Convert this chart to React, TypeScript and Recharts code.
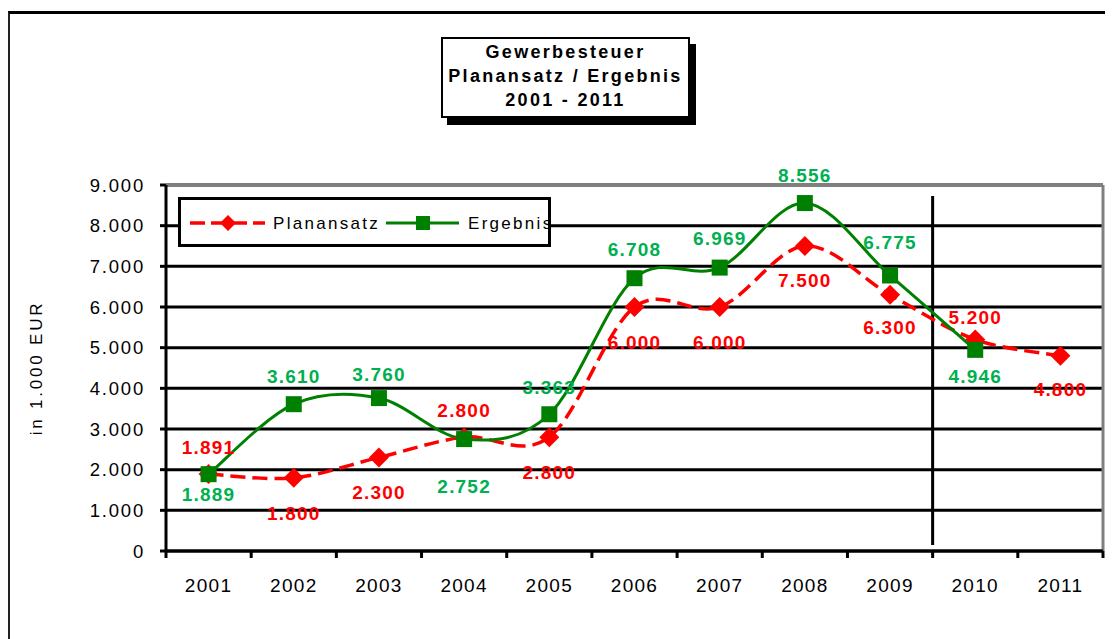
import React from 'react';
import { LineChart, Line, XAxis, YAxis, CartesianGrid, ReferenceLine, Legend } from 'recharts';

const years = ['2001', '2002', '2003', '2004', '2005', '2006', '2007', '2008', '2009', '2010', '2011'];
const planansatz = [1891, 1800, 2300, 2800, 2800, 6000, 6000, 7500, 6300, 5200, 4800];
const ergebnis: (number | null)[] = [1889, 3610, 3760, 2752, 3363, 6708, 6969, 8556, 6775, 4946, null];
const yTicks = [0, 1000, 2000, 3000, 4000, 5000, 6000, 7000, 8000, 9000];
const titleLines = ['Gewerbesteuer', 'Planansatz / Ergebnis', '2001 - 2011'];

// where each data label sits relative to its point (px, negative = above)
const planLabelDy = [-27, 36, 35, -27, 35, 35, 35, 34, 33, -22, 34];
const ergebnisLabelDy = [20, -28, -24, 47, -27, -29, -29, -28, -33, 27, 0];

const W = 1105;
const H = 631;
const MARGIN = { top: 177, right: 10, bottom: 48, left: 0 };
const Y_AXIS_W = 158;
const PLOT_W = W - MARGIN.right - MARGIN.left - Y_AXIS_W;

const FONT = "'Liberation Sans', Arial, sans-serif";
const RED = '#FF0000';
const GREEN_LINE = '#008000';
const GREEN_TEXT = '#00B050';

const data = years.map((year, i) => ({ year, planansatz: planansatz[i], ergebnis: ergebnis[i] }));

const fmt = (v: number) => String(v).replace(/\B(?=(\d{3})+(?!\d))/g, '.');

// Excel-like smoothed line (bezier through points, tangents from neighbours)
const excelSmooth = (context: any) => {
  let pts: [number, number][] = [];
  return {
    areaStart() {},
    areaEnd() {},
    lineStart() {
      pts = [];
    },
    point(x: number, y: number) {
      pts.push([+x, +y]);
    },
    lineEnd() {
      const n = pts.length;
      if (!n) return;
      context.moveTo(pts[0][0], pts[0][1]);
      for (let i = 0; i < n - 1; i++) {
        const p0 = pts[Math.max(i - 1, 0)];
        const p1 = pts[i];
        const p2 = pts[i + 1];
        const p3 = pts[Math.min(i + 2, n - 1)];
        context.bezierCurveTo(
          p1[0] + (p2[0] - p0[0]) / 6,
          p1[1] + (p2[1] - p0[1]) / 6,
          p2[0] - (p3[0] - p1[0]) / 6,
          p2[1] - (p3[1] - p1[1]) / 6,
          p2[0],
          p2[1]
        );
      }
    },
  };
};

const Diamond = (p: any) => {
  if (p.cy == null || p.cx == null) return <g key={`pd-${p.index}`} />;
  const r = 10;
  return (
    <path
      key={`pd-${p.index}`}
      d={`M${p.cx},${p.cy - r}L${p.cx + r},${p.cy}L${p.cx},${p.cy + r}L${p.cx - r},${p.cy}Z`}
      fill={RED}
    />
  );
};

const Square = (p: any) => {
  if (p.cy == null || p.cx == null || p.value == null) return <g key={`es-${p.index}`} />;
  const s = 16;
  return <rect key={`es-${p.index}`} x={p.cx - s / 2} y={p.cy - s / 2} width={s} height={s} fill={GREEN_LINE} />;
};

const makeLabel = (color: string, dys: number[]) => (props: any) => {
  const x = props.x ?? props.viewBox?.x;
  const y = props.y ?? props.viewBox?.y;
  const value = props.value;
  if (value == null || x == null || y == null) return null;
  return (
    <text
      key={`l-${color}-${props.index}`}
      x={x}
      y={y + dys[props.index]}
      textAnchor="middle"
      dominantBaseline="central"
      fill={color}
      fontFamily={FONT}
      fontWeight="bold"
      fontSize={19}
      letterSpacing={1.2}
    >
      {fmt(value)}
    </text>
  );
};

const XTick = (props: any) => {
  const { x, y, payload, index } = props;
  const half = PLOT_W / years.length / 2;
  return (
    <g>
      <line x1={x - half} y1={y} x2={x - half} y2={y + 7} stroke="#000" strokeWidth={3} />
      {index === years.length - 1 && (
        <line x1={x + half} y1={y} x2={x + half} y2={y + 7} stroke="#000" strokeWidth={3} />
      )}
      <text
        x={x}
        y={y + 34}
        textAnchor="middle"
        dominantBaseline="central"
        fill="#000"
        fontFamily={FONT}
        fontSize={19}
        letterSpacing={1.3}
      >
        {payload.value}
      </text>
    </g>
  );
};

const YLabel = (props: any) => {
  const vb = props.viewBox || {};
  const cx = (vb.x ?? 0) + 28;
  const cy = (vb.y ?? 0) + (vb.height ?? 0) / 2;
  return (
    <text
      x={cx}
      y={cy}
      transform={`rotate(-90 ${cx} ${cy})`}
      textAnchor="middle"
      dominantBaseline="central"
      fill="#000"
      fontFamily={FONT}
      fontSize={17}
      letterSpacing={2.8}
    >
      in 1.000 EUR
    </text>
  );
};

const LegendBox = () => (
  <svg width={373} height={50} style={{ overflow: 'visible', display: 'block' }}>
    <rect x={1.5} y={1.5} width={370} height={47} fill="#fff" />
    <line x1={12} y1={26} x2={87} y2={26} stroke={RED} strokeWidth={3.5} strokeDasharray="15 6" />
    <path d="M50,18L58,26L50,34L42,26Z" fill={RED} />
    <text x={95} y={26} dominantBaseline="central" fontFamily={FONT} fontSize={17} letterSpacing={2.3} fill="#000">
      Planansatz
    </text>
    <line x1={208} y1={26} x2={281} y2={26} stroke={GREEN_LINE} strokeWidth={3} />
    <rect x={238} y={19} width={14} height={14} fill={GREEN_LINE} />
    <text x={290} y={26} dominantBaseline="central" fontFamily={FONT} fontSize={17} letterSpacing={2.3} fill="#000">
      Ergebnis
    </text>
    <rect x={1.5} y={1.5} width={370} height={47} fill="none" stroke="#000" strokeWidth={3} />
  </svg>
);

const App: React.FC = () => {
  return (
    <div style={{ position: 'relative', width: W, height: H, overflow: 'hidden', background: '#fff' }}>
      <div
        style={{
          position: 'absolute',
          left: 0,
          top: 3,
          width: W + 20,
          height: H + 20,
          borderTop: '3px solid #000',
          borderLeft: '2px solid #222',
          boxSizing: 'border-box',
        }}
      />
      <div style={{ position: 'absolute', left: 0, top: 0 }}>
        <LineChart width={W} height={H} data={data} margin={MARGIN}>
          <CartesianGrid vertical={false} stroke="#000" strokeWidth={3} />
          <ReferenceLine y={9000} stroke="#808080" strokeWidth={3} />
          <ReferenceLine x="2011" position="end" stroke="#808080" strokeWidth={3} />
          <ReferenceLine
            position="end"
            segment={[
              { x: '2009', y: 8730 },
              { x: '2009', y: 150 },
            ]}
            stroke="#000"
            strokeWidth={3}
          />
          <XAxis
            dataKey="year"
            scale="band"
            height={40}
            tickLine={false}
            tickSize={0}
            tickMargin={0}
            axisLine={{ stroke: '#000', strokeWidth: 3 }}
            tick={<XTick />}
            interval={0}
          />
          <YAxis
            width={Y_AXIS_W}
            domain={[0, 9000]}
            ticks={yTicks}
            interval={0}
            tickFormatter={fmt}
            tickSize={6}
            tickMargin={15}
            axisLine={{ stroke: '#000', strokeWidth: 3 }}
            tickLine={{ stroke: '#000', strokeWidth: 3 }}
            tick={{ fill: '#000', fontSize: 18.5, fontFamily: FONT, letterSpacing: 1.8 }}
            label={YLabel}
          />
          <Legend
            verticalAlign="middle"
            align="center"
            wrapperStyle={{ left: 170, top: 189, width: 373, height: 50 }}
            content={LegendBox}
          />
          <Line
            dataKey="planansatz"
            name="Planansatz"
            type={excelSmooth as any}
            stroke={RED}
            strokeWidth={3.5}
            strokeDasharray="15 7"
            dot={Diamond}
            activeDot={false}
            label={makeLabel(RED, planLabelDy)}
            isAnimationActive={false}
          />
          <Line
            dataKey="ergebnis"
            name="Ergebnis"
            type={excelSmooth as any}
            stroke={GREEN_LINE}
            strokeWidth={3}
            dot={Square}
            activeDot={false}
            label={makeLabel(GREEN_TEXT, ergebnisLabelDy)}
            isAnimationActive={false}
          />
        </LineChart>
      </div>
      <div
        style={{
          position: 'absolute',
          left: 433,
          top: 29,
          width: 249,
          height: 81,
          boxSizing: 'border-box',
          border: '2px solid #000',
          background: '#fff',
          boxShadow: '6px 7px 0 #000',
          paddingTop: 1,
          textAlign: 'center',
          fontFamily: FONT,
          fontWeight: 'bold',
          fontSize: 18,
          lineHeight: '24px',
          letterSpacing: 2.3,
          color: '#000',
        }}
      >
        {titleLines.map((t) => (
          <div key={t}>{t}</div>
        ))}
      </div>
    </div>
  );
};

export default App;
